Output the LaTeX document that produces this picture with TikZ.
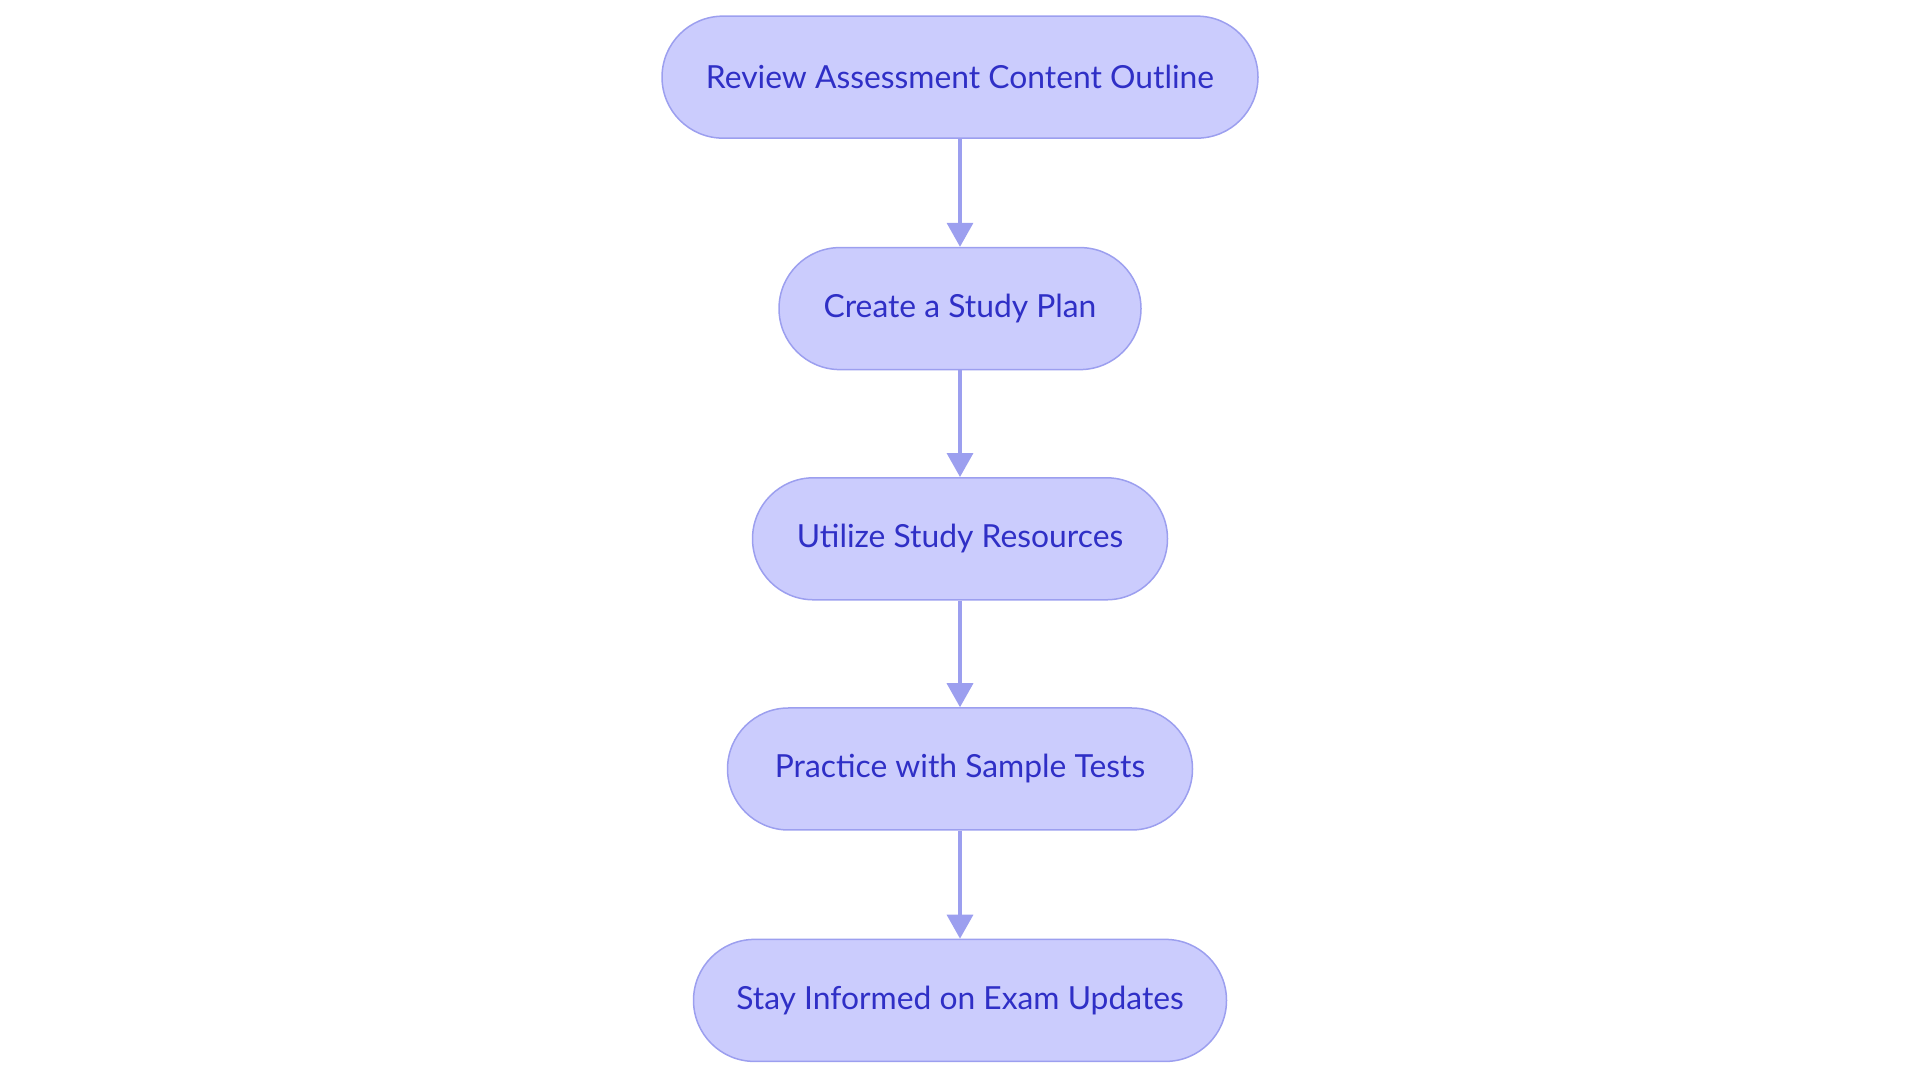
\documentclass[tikz,border=0pt]{standalone}
\usepackage{fontspec}
\setmainfont{Lato}
\usetikzlibrary{arrows.meta}
\definecolor{fillc}{HTML}{CBCCFD}
\definecolor{linec}{HTML}{9C9FEF}
\definecolor{textc}{HTML}{2F2FC6}
\begin{document}
\begin{tikzpicture}[x=1.2245pt,y=-1.2245pt,
  box/.style={draw=linec,line width=1.5pt,fill=fillc,rounded corners=61pt,minimum height=122pt,text=textc,font=\fontsize{31.8}{36}\selectfont,inner sep=0pt},
  arr/.style={draw=linec,line width=3.5pt,-{Triangle[width=26pt,length=24pt]}}]
\useasboundingbox (0,0) rectangle (1568,884);
\node[box,minimum width=596pt] (a) at (784,63) {Review Assessment Content Outline};
\node[box,minimum width=362pt] (b) at (784,252) {Create a Study Plan};
\node[box,minimum width=415pt] (c) at (784,440) {Utilize Study Resources};
\node[box,minimum width=465pt] (d) at (784,628) {Practice with Sample Tests};
\node[box,minimum width=533pt] (e) at (784,817) {Stay Informed on Exam Updates};
\draw[arr] (a) -- (b);
\draw[arr] (b) -- (c);
\draw[arr] (c) -- (d);
\draw[arr] (d) -- (e);
\end{tikzpicture}
\end{document}
